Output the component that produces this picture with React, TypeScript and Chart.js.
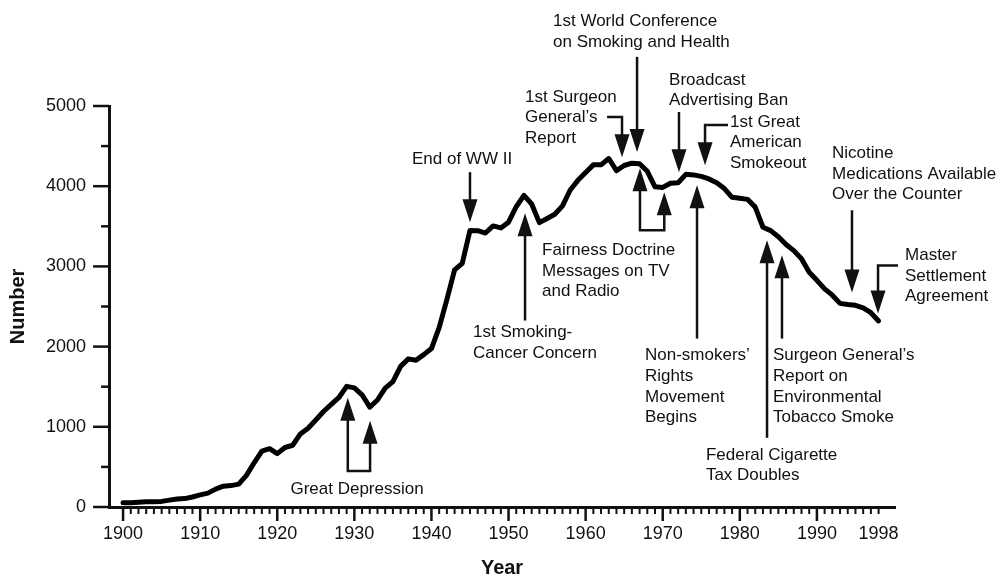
import React, { useEffect, useRef } from "react";
import { Chart, registerables } from "chart.js";

Chart.register(...registerables);

// ---- data (per capita cigarette consumption, adults) ----
const years: number[] = [
  1900, 1901, 1902, 1903, 1904, 1905, 1906, 1907, 1908, 1909,
  1910, 1911, 1912, 1913, 1914, 1915, 1916, 1917, 1918, 1919,
  1920, 1921, 1922, 1923, 1924, 1925, 1926, 1927, 1928, 1929,
  1930, 1931, 1932, 1933, 1934, 1935, 1936, 1937, 1938, 1939,
  1940, 1941, 1942, 1943, 1944, 1945, 1946, 1947, 1948, 1949,
  1950, 1951, 1952, 1953, 1954, 1955, 1956, 1957, 1958, 1959,
  1960, 1961, 1962, 1963, 1964, 1965, 1966, 1967, 1968, 1969,
  1970, 1971, 1972, 1973, 1974, 1975, 1976, 1977, 1978, 1979,
  1980, 1981, 1982, 1983, 1984, 1985, 1986, 1987, 1988, 1989,
  1990, 1991, 1992, 1993, 1994, 1995, 1996, 1997, 1998,
];
const consumption: number[] = [
  54, 53, 60, 64, 66, 70, 86, 99, 105, 125,
  151, 173, 223, 260, 267, 285, 395, 551, 697, 727,
  665, 742, 770, 911, 982, 1085, 1191, 1279, 1366, 1504,
  1485, 1399, 1245, 1334, 1483, 1564, 1754, 1847, 1830, 1900,
  1976, 2236, 2585, 2956, 3039, 3449, 3446, 3416, 3505, 3480,
  3552, 3744, 3886, 3778, 3546, 3597, 3650, 3755, 3953, 4073,
  4171, 4266, 4266, 4345, 4194, 4258, 4287, 4280, 4186, 3993,
  3985, 4037, 4043, 4148, 4141, 4122, 4091, 4043, 3970, 3861,
  3849, 3836, 3739, 3488, 3446, 3370, 3274, 3197, 3096, 2926,
  2826, 2720, 2641, 2539, 2524, 2515, 2482, 2423, 2320,
];

// tick labels
const xLabelYears: number[] = [1900, 1910, 1920, 1930, 1940, 1950, 1960, 1970, 1980, 1990, 1998];
const yLabelValues: number[] = [0, 1000, 2000, 3000, 4000, 5000];
const yMinorValues: number[] = [500, 1500, 2500, 3500, 4500];
const xMinorFirst = 1900;
const xMinorLast = 1998;

// ---- annotations (anchored in data coordinates) ----
type Ann = {
  lines: string[];
  at: [number, number];
  align: "left" | "center";
  path: [number, number][];
  heads: "end" | "both";
};
const annotations: Ann[] = [
  { lines: ["Great Depression"], at: [1930.35, 225], align: "center",
    path: [[1929.15, 1362], [1929.15, 450], [1932.04, 450], [1932.04, 1075]], heads: "both" },
  { lines: ["End of WW II"], at: [1943.97, 4337], align: "center",
    path: [[1945.0, 4175], [1945.0, 3550]], heads: "end" },
  { lines: ["1st Smoking-", "Cancer Concern"], at: [1945.4, 2175], align: "left",
    path: [[1952.14, 2325], [1952.14, 3662]], heads: "end" },
  { lines: ["Fairness Doctrine", "Messages on TV", "and Radio"], at: [1954.35, 3200], align: "left",
    path: [[1967.05, 4225], [1967.05, 3450], [1970.2, 3450], [1970.2, 3925]], heads: "both" },
  { lines: ["1st Surgeon", "General\u2019s", "Report"], at: [1952.14, 5112.5], align: "left",
    path: [[1962.78, 4862.5], [1964.72, 4862.5], [1964.72, 4362.5]], heads: "end" },
  { lines: ["1st World Conference", "on Smoking and Health"], at: [1955.77, 6050], align: "left",
    path: [[1966.67, 5612.5], [1966.67, 4425]], heads: "end" },
  { lines: ["Broadcast", "Advertising Ban"], at: [1970.82, 5325], align: "left",
    path: [[1972.11, 4925], [1972.11, 4175]], heads: "end" },
  { lines: ["1st Great", "American", "Smokeout"], at: [1978.73, 4800], align: "left",
    path: [[1978.47, 4762.5], [1975.49, 4762.5], [1975.49, 4262.5]], heads: "end" },
  { lines: ["Non-smokers\u2019", "Rights", "Movement", "Begins"], at: [1967.7, 1887.5], align: "left",
    path: [[1974.45, 2100], [1974.45, 4012.5]], heads: "end" },
  { lines: ["Federal Cigarette", "Tax Doubles"], at: [1975.6, 650], align: "left",
    path: [[1983.53, 862.5], [1983.53, 3325]], heads: "end" },
  { lines: ["Surgeon General\u2019s", "Report on", "Environmental", "Tobacco Smoke"], at: [1984.3, 1887.5], align: "left",
    path: [[1985.47, 2100], [1985.47, 3137.5]], heads: "end" },
  { lines: ["Nicotine", "Medications Available", "Over the Counter"], at: [1991.96, 4412.5], align: "left",
    path: [[1994.55, 3700], [1994.55, 2675]], heads: "end" },
  { lines: ["Master", "Settlement", "Agreement"], at: [2001.43, 3137.5], align: "left",
    path: [[2000.52, 3012.5], [1997.93, 3012.5], [1997.93, 2412.5]], heads: "end" },
];

const FONT = '"Liberation Sans", Arial, Helvetica, sans-serif';
const INK = "#111111";
const HEAD_LEN = 23;
const HEAD_W = 15;
const LINE_H = 20.7;

function drawHead(ctx: CanvasRenderingContext2D, from: number[], to: number[]) {
  const dx = to[0] - from[0];
  const dy = to[1] - from[1];
  const len = Math.hypot(dx, dy) || 1;
  const ux = dx / len, uy = dy / len;
  const bx = to[0] - ux * HEAD_LEN, by = to[1] - uy * HEAD_LEN;
  const w = HEAD_W / 2;
  ctx.beginPath();
  ctx.moveTo(to[0], to[1]);
  ctx.lineTo(bx - uy * w, by + ux * w);
  ctx.lineTo(bx + uy * w, by - ux * w);
  ctx.closePath();
  ctx.fill();
}

function shorten(from: number[], to: number[], d: number): number[] {
  const dx = to[0] - from[0];
  const dy = to[1] - from[1];
  const len = Math.hypot(dx, dy) || 1;
  return [to[0] - (dx / len) * d, to[1] - (dy / len) * d];
}

const annotationPlugin = {
  id: "annotationPlugin",
  afterDraw(chart: any) {
    const { ctx, scales } = chart;
    const x = scales.x, y = scales.y;
    ctx.save();
    ctx.fillStyle = INK;
    ctx.strokeStyle = INK;

    // axis tick marks
    const base = y.getPixelForValue(0);
    const left = chart.chartArea.left;
    for (let yr = xMinorFirst; yr <= xMinorLast; yr++) {
      const px = x.getPixelForValue(yr);
      const major = yr % 10 === 0;
      ctx.lineWidth = major ? 2.5 : 2;
      ctx.beginPath();
      ctx.moveTo(px, base);
      ctx.lineTo(px, base + (major ? 14 : 7));
      ctx.stroke();
    }
    yLabelValues.forEach((v) => {
      const py = y.getPixelForValue(v);
      ctx.lineWidth = 2.5;
      ctx.beginPath();
      ctx.moveTo(left, py);
      ctx.lineTo(left - 16, py);
      ctx.stroke();
    });
    yMinorValues.forEach((v) => {
      const py = y.getPixelForValue(v);
      ctx.lineWidth = 2.5;
      ctx.beginPath();
      ctx.moveTo(left, py);
      ctx.lineTo(left - 8, py);
      ctx.stroke();
    });

    // annotations
    ctx.font = `17px ${FONT}`;
    ctx.textBaseline = "middle";
    ctx.lineWidth = 2.5;
    ctx.lineJoin = "miter";
    ctx.lineCap = "butt";
    annotations.forEach((a) => {
      const pts = a.path.map((p) => [x.getPixelForValue(p[0]), y.getPixelForValue(p[1])]);
      const n = pts.length;
      const drawPts = pts.map((p) => p.slice());
      drawPts[n - 1] = shorten(pts[n - 2], pts[n - 1], HEAD_LEN * 0.7);
      if (a.heads === "both") drawPts[0] = shorten(pts[1], pts[0], HEAD_LEN * 0.7);
      ctx.beginPath();
      ctx.moveTo(drawPts[0][0], drawPts[0][1]);
      for (let i = 1; i < n; i++) ctx.lineTo(drawPts[i][0], drawPts[i][1]);
      ctx.stroke();
      drawHead(ctx, pts[n - 2], pts[n - 1]);
      if (a.heads === "both") drawHead(ctx, pts[1], pts[0]);

      ctx.textAlign = a.align;
      const tx = x.getPixelForValue(a.at[0]);
      const ty = y.getPixelForValue(a.at[1]);
      a.lines.forEach((line, i) => ctx.fillText(line, tx, ty + i * LINE_H));
    });
    ctx.restore();
  },
};

export default function App() {
  const canvasRef = useRef<HTMLCanvasElement | null>(null);

  useEffect(() => {
    if (!canvasRef.current) return;
    Chart.defaults.font.family = FONT;
    Chart.defaults.color = INK;
    const chart = new Chart(canvasRef.current, {
      type: "line",
      data: {
        datasets: [
          {
            data: years.map((yr, i) => ({ x: yr, y: consumption[i] })),
            borderColor: "#000000",
            borderWidth: 5,
            pointRadius: 0,
            tension: 0,
            borderJoinStyle: "round",
            borderCapStyle: "round",
            fill: false,
          },
        ],
      },
      options: {
        responsive: false,
        devicePixelRatio: 1,
        animation: false,
        layout: { padding: { left: 0, right: 106, top: 106, bottom: 0 } },
        plugins: {
          legend: { display: false },
          tooltip: { enabled: false },
        },
        scales: {
          x: {
            type: "linear",
            min: 1898.18,
            max: 2000.13,
            afterBuildTicks: (scale: any) => {
              scale.ticks = xLabelYears.map((v) => ({ value: v }));
            },
            ticks: {
              autoSkip: false,
              maxRotation: 0,
              padding: 16,
              font: { size: 18 },
              color: INK,
              callback: (v: any) => String(v),
            },
            grid: { display: true, drawOnChartArea: false, drawTicks: false, color: "rgba(0,0,0,0)" },
            border: { display: true, color: INK, width: 3 },
            title: {
              display: true,
              text: "Year",
              font: { size: 20, weight: "bold" },
              color: INK,
              padding: { top: -4.6, bottom: 0 },
            },
          },
          y: {
            type: "linear",
            min: 0,
            max: 5000,
            afterBuildTicks: (scale: any) => {
              scale.ticks = yLabelValues.map((v) => ({ value: v }));
            },
            ticks: {
              padding: 23,
              font: { size: 18 },
              color: INK,
              callback: (v: any) => String(v),
            },
            grid: { display: true, drawOnChartArea: false, drawTicks: false, color: "rgba(0,0,0,0)" },
            border: { display: true, color: INK, width: 3 },
            title: {
              display: true,
              text: "Number",
              font: { size: 20, weight: "bold" },
              color: INK,
              padding: { top: 6, bottom: -7 },
            },
          },
        },
      },
      plugins: [annotationPlugin],
    } as any);
    return () => chart.destroy();
  }, []);

  return (
    <div style={{ position: "absolute", left: 0, top: 0, width: 1001, height: 580, background: "#fff" }}>
      <canvas ref={canvasRef} width={1001} height={580} style={{ width: 1001, height: 580, display: "block" }} />
    </div>
  );
}
